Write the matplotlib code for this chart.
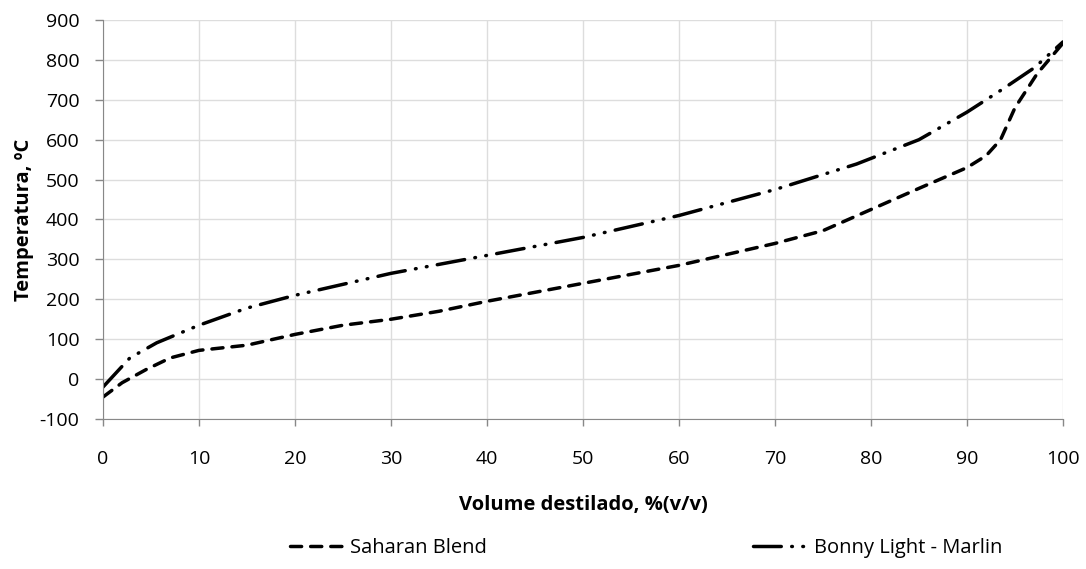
import matplotlib.pyplot as plt

# curva de destilacao (TBP) dos dois crudes
vol_saharan = [0, 2, 4.5, 7, 10, 15, 20, 25, 30, 35, 40, 50, 60, 70, 75, 80, 85, 90, 92, 93.5, 95, 97.3, 100]
temp_saharan = [-45, -9, 24, 53, 72, 85, 112, 135, 150, 170, 195, 240, 285, 340, 372, 425, 478, 530, 560, 600, 680, 765, 842]

vol_bonny = [0, 2.8, 5.6, 10, 15, 20, 30, 40, 50, 60, 70, 78.5, 85, 90, 93.8, 97, 100]
temp_bonny = [-20, 53, 91, 135, 178, 210, 265, 310, 355, 410, 475, 539, 600, 669, 728, 780, 845]

xticks = list(range(0, 101, 10))
yticks = list(range(-100, 901, 100))

plt.rcParams['font.family'] = ['Open Sans', 'DejaVu Sans']
plt.rcParams['axes.unicode_minus'] = False

fig = plt.figure(figsize=(10.86, 5.69), dpi=100)
ax = fig.add_axes([0.0948, 0.2636, 0.884, 0.7013])

l1, = ax.plot(vol_saharan, temp_saharan, color='black', lw=2.5,
              linestyle=(0, (3.2, 2.6)), dash_capstyle='round', label='Saharan Blend')
l2, = ax.plot(vol_bonny, temp_bonny, color='black', lw=2.5,
              linestyle=(0, (8, 3, 0.2, 3, 0.2, 3)), dash_capstyle='round',
              label='Bonny Light - Marlin')

ax.set_xlim(0, 100)
ax.set_ylim(-100, 900)
ax.set_xticks(xticks)
ax.set_yticks(yticks)
ax.tick_params(labelsize=14, color='#888888', width=1)
ax.tick_params(axis='x', length=5, pad=17)
ax.tick_params(axis='y', length=6, pad=11)
ax.grid(True, color='#dddddd', lw=1)
ax.set_axisbelow(True)
for s in ['top', 'right']:
    ax.spines[s].set_visible(False)
for s in ['left', 'bottom']:
    ax.spines[s].set_color('#888888')

ax.set_xlabel('Volume destilado, %(v/v)', fontsize=14.5, fontweight='bold', labelpad=20)
ax.set_ylabel('Temperatura, ºC', fontsize=14.5, fontweight='bold', labelpad=4)

fig.legend(handles=[l1, l2], loc='center left', bbox_to_anchor=(0.267, 0.037), ncol=2,
           frameon=False, borderaxespad=0, borderpad=0, columnspacing=13.2,
           handlelength=2.6, handletextpad=0.4, fontsize=14.5)

fig.savefig('out.png', dpi=100)
